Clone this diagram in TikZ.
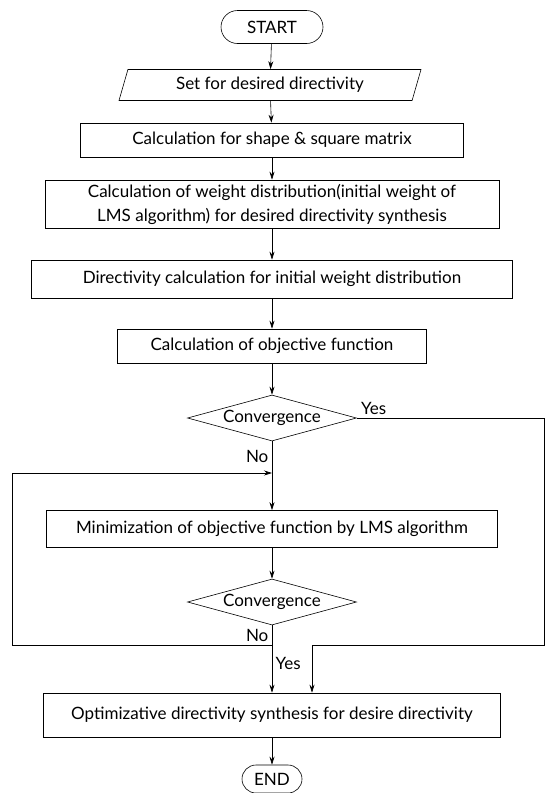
\documentclass[tikz,border=0pt]{standalone}
\usepackage{fontspec}
\setmainfont{Lato}
\usetikzlibrary{shapes.geometric,shapes.misc,arrows.meta}

\begin{document}
\begin{tikzpicture}[x=1pt,y=-1pt,>={Stealth[length=8pt,width=5pt]},
    every node/.style={font=\fontsize{17}{24}\selectfont},
    every path/.style={line width=0.6pt},
    box/.style={draw,rectangle,minimum height=34pt,inner sep=0pt},
    term/.style={draw,rounded rectangle,minimum width=102pt,minimum height=33pt,inner sep=0pt},
    io/.style={draw,trapezium,trapezium left angle=60,trapezium right angle=120,
      trapezium stretches body,minimum width=302pt,minimum height=31pt,inner sep=0pt},
    dec/.style={draw,diamond,aspect=3.7,minimum width=169pt,minimum height=46pt,inner sep=0pt}]

    \useasboundingbox (0,0) rectangle (554,793);

    \node[term] (a) at (272,27) {START};
    \node[io] (b) at (270,85) {Set for desired directivity};
    \node[box, minimum width=383pt] (c) at (272,140) {Calculation for shape \& square matrix};
    \node[box, minimum width=454pt, minimum height=48pt, align=center] (d) at (272,204)
      {Calculation of weight distribution(initial weight of\\LMS algorithm) for desired directivity synthesis};
    \node[box, minimum width=481pt, minimum height=38pt] (e) at (272,279) {Directivity calculation for initial weight distribution};
    \node[box, minimum width=309pt] (f) at (272,346) {Calculation of objective function};
    \node[dec] (g) at (272,418) {Convergence};
    \node[box, minimum width=451pt, minimum height=37pt] (h) at (272,529) {Minimization of objective function by LMS algorithm};
    \node[dec] (i) at (272,602) {Convergence};
    \node[box, minimum width=457pt, minimum height=44pt] (j) at (272,715) {Optimizative directivity synthesis for desire directivity};
    \node[term, minimum width=60pt, minimum height=28pt] (k) at (272,779) {END};

    \coordinate (r) at (544,645);
    \coordinate (s) at (312,645);
    \coordinate (l1) at (12,645);
    \coordinate (l2) at (12,473);
    \coordinate (m) at (272,473);

    \draw [->] (a) -- (b);
    \draw [->] (b) -- (c);
    \draw [->] (c) -- (d);
    \draw [->] (d) -- (e);
    \draw [->] (e) -- (f);
    \draw [->] (f) -- (g);
    \draw [->] (g) -- node[pos=0.22, left] {No} (h);
    \draw [->] (h) -- (i);
    \draw [->] (i) -- node[pos=0.56, right] {Yes} (j);
    \draw [->] (j) -- (k);
    \draw [->] (g.east) -| node[pos=0.045, above] {Yes} (r) -- (s) -- (s |- j.north);
    \draw [->] (i.south) -- node[left] {No} (i.south |- l1) -- (l1) -- (l2) -- (m);

  \end{tikzpicture}
\end{document}
